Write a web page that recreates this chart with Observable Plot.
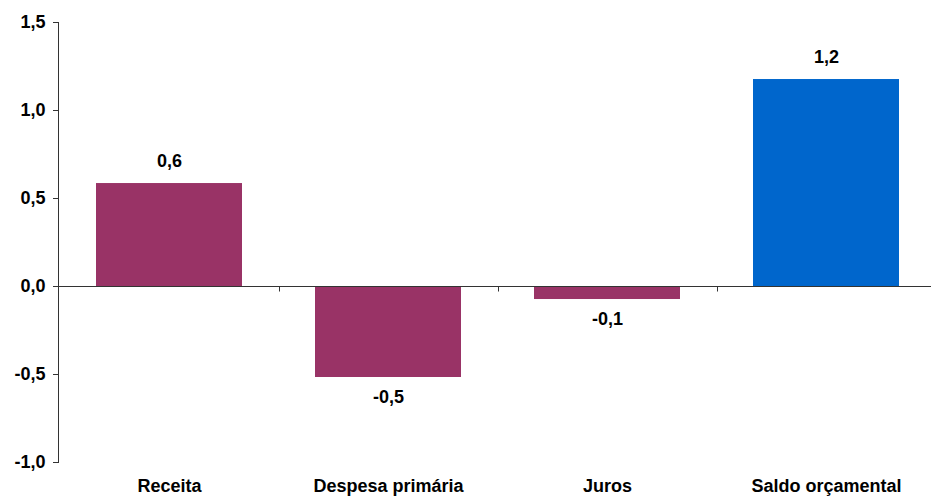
<!DOCTYPE html>
<html>
<head>
<meta charset="utf-8">
<script src="https://cdn.jsdelivr.net/npm/d3@7"></script>
<script src="https://cdn.jsdelivr.net/npm/@observablehq/plot@0.6"></script>
<style>
  html, body { margin: 0; padding: 0; background: #fff; }
  #chart svg { display: block; font-family: "Liberation Sans", Arial, sans-serif; }
</style>
</head>
<body>
<div id="chart"></div>
<script>
const categories = ["Receita", "Despesa primária", "Juros", "Saldo orçamental"];
const values = [0.585, -0.517, -0.074, 1.176];
const yTicks = [-1.0, -0.5, 0.0, 0.5, 1.0, 1.5];
const highlight = "Saldo orçamental";

const data = categories.map((c, i) => ({cat: c, v: values[i]}));
const fmt = d => d.toFixed(1).replace(".", ",");
const MAGENTA = "#993366", BLUE = "#0066CC";
const FS = 18;

function boundaryTicks(index, scales, vals, dims) {
  const x = scales.x, y = scales.y;
  const step = x.step ? x.step() : (dims.width - dims.marginLeft - dims.marginRight) / categories.length;
  const bw = x.bandwidth ? x.bandwidth() : 0;
  const g = d3.create("svg:g").attr("stroke", "#333").attr("stroke-width", 1);
  const y0 = Math.round(y(0)) + 0.5;
  for (let i = 1; i < categories.length; i++) {
    const xb = Math.round(x(categories[i]) - (step - bw) / 2) + 0.5;
    g.append("line").attr("x1", xb).attr("x2", xb).attr("y1", y0).attr("y2", y0 + 5);
  }
  return g.node();
}

const chart = Plot.plot({
  width: 931,
  height: 498,
  marginLeft: 58,
  marginRight: -5,
  marginTop: 22,
  marginBottom: 36,
  style: {fontFamily: "'Liberation Sans', Arial, sans-serif", color: "#000", background: "#fff"},
  x: {domain: categories, paddingInner: 0.335, paddingOuter: 0.1675, align: 0.5},
  y: {domain: [-1, 1.5]},
  marks: [
    Plot.barY(data, {x: "cat", y: "v", fill: d => d.cat === highlight ? BLUE : MAGENTA}),
    Plot.frame({anchor: "left", stroke: "#333"}),
    Plot.ruleY([0], {stroke: "#333", strokeWidth: 1}),
    boundaryTicks,
    Plot.axisY({ticks: yTicks, tickFormat: fmt, tickSize: 5, tickPadding: 8, fontSize: FS, fontWeight: "bold", stroke: "#333", label: null}),
    Plot.axisX({tickSize: 0, tickPadding: 17, fontSize: FS, fontWeight: "bold", label: null}),
    Plot.text(data.filter(d => d.v >= 0), {x: "cat", y: "v", text: d => fmt(d.v), dy: -22, fontSize: FS, fontWeight: "bold", fill: "#000"}),
    Plot.text(data.filter(d => d.v < 0), {x: "cat", y: "v", text: d => fmt(d.v), dy: 20, fontSize: FS, fontWeight: "bold", fill: "#000"})
  ]
});
document.getElementById("chart").appendChild(chart);
</script>
</body>
</html>
